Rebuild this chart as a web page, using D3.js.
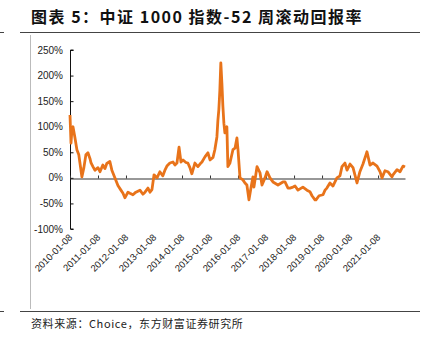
<!DOCTYPE html>
<html><head><meta charset="utf-8">
<script src="https://cdn.jsdelivr.net/npm/d3@7/dist/d3.min.js"></script>
<style>
html,body{margin:0;padding:0;background:#fff;}
svg{display:block;}
</style></head>
<body>
<svg id="chart" width="426" height="341"></svg>
<script>
const titleText = "图表 5：中证 1000 指数-52 周滚动回报率";
const sourceText = "资料来源：Choice，东方财富证券研究所";
const yTicks = [-100, -50, 0, 50, 100, 150, 200, 250];
const xTickLabels = ["2010-01-08","2011-01-08","2012-01-08","2013-01-08","2014-01-08","2015-01-08","2016-01-08","2017-01-08","2018-01-08","2019-01-08","2020-01-08","2021-01-08"];
const dates = ["2010-01-08","2010-01-21","2010-02-03","2010-02-16","2010-03-12","2010-04-08","2010-05-03","2010-05-16","2010-06-12","2010-07-08","2010-08-03","2010-08-30","2010-09-25","2010-10-08","2010-11-03","2010-11-30",
"2011-01-08","2011-02-03","2011-03-12","2011-04-08","2011-05-03","2011-06-12","2011-07-08","2011-08-16","2011-09-25","2011-11-03","2011-11-30","2011-12-25",
"2012-02-03","2012-02-28","2012-04-08","2012-05-16","2012-07-08","2012-08-16","2012-09-12","2012-10-21","2012-11-16","2012-12-12",
"2013-01-08","2013-02-16","2013-03-25","2013-05-03","2013-05-30","2013-06-25","2013-08-03","2013-09-12","2013-10-08","2013-11-03","2013-11-30","2013-12-25",
"2014-01-21","2014-02-28","2014-03-25","2014-04-21","2014-05-16","2014-06-25","2014-08-03","2014-08-30","2014-09-25","2014-11-03","2014-12-12",
"2015-01-08","2015-02-16","2015-03-12","2015-04-08","2015-04-21","2015-05-03","2015-05-16","2015-05-29","2015-06-12","2015-06-25","2015-07-08","2015-07-21","2015-08-16","2015-08-29","2015-09-25","2015-11-03","2015-11-30","2015-12-25",
"2016-01-08","2016-02-03","2016-03-12","2016-04-08","2016-05-03","2016-05-30","2016-06-25","2016-07-21","2016-08-03","2016-09-12","2016-10-21","2016-11-16","2016-12-25",
"2017-01-21","2017-02-28","2017-04-08","2017-06-12","2017-08-16","2017-09-12","2017-10-21","2017-11-16","2017-12-25",
"2018-01-21","2018-02-28","2018-05-03","2018-06-25","2018-08-03","2018-08-30","2018-10-08","2018-10-21","2018-11-30",
"2019-01-21","2019-02-16","2019-03-12","2019-04-21","2019-05-30","2019-07-21","2019-08-30","2019-09-25","2019-11-03","2019-11-30",
"2020-01-08","2020-02-16","2020-04-08","2020-05-16","2020-06-25","2020-08-03","2020-08-16","2020-09-25","2020-11-03","2020-12-25",
"2021-02-03","2021-02-28","2021-04-08","2021-05-16","2021-07-08","2021-07-21","2021-09-12","2021-10-21","2021-11-29","2021-12-25"];
const returns = [123,68,95,100,80,55,45,31,2,20,45,49,38,30,22,15,
20,12,25,18,28,32,15,0,-15,-24,-30,-39,
-28,-30,-33,-28,-24,-32,-28,-20,-28,-23,
6,0,12,4,15,23,29,31,25,29,60,31,
35,30,29,20,8,29,22,27,31,41,49,
35,40,55,80,113,133,170,225,185,140,107,88,100,22,29,55,58,78,
55,0,-4,-10,-14,-43,-20,2,-18,22,10,-14,0,
12,0,-8,-14,-8,-8,-20,-20,-18,
-16,-24,-18,-24,-27,-35,-43,-43,-35,
-33,-24,-20,-10,-16,0,4,22,29,15,
27,20,-10,12,27,45,51,25,29,23,
12,0,14,12,2,6,16,12,23,21];

const parse = d3.timeParse("%Y-%m-%d");
const data = dates.map((d,i)=>({date:parse(d), v:returns[i]}));

const svg = d3.select("#chart");
const latin = "'Liberation Sans Narrow','Liberation Sans',Arial,sans-serif";
const cjk = "'Noto Sans CJK SC','Liberation Sans',sans-serif";

// frame
svg.append("line").attr("x1",20).attr("x2",420).attr("y1",32.5).attr("y2",32.5).attr("stroke","#444").attr("stroke-width",1.2);
svg.append("line").attr("x1",0).attr("x2",4).attr("y1",32.5).attr("y2",32.5).attr("stroke","#444").attr("stroke-width",1);
svg.append("line").attr("x1",20).attr("x2",420).attr("y1",311.5).attr("y2",311.5).attr("stroke","#444").attr("stroke-width",1.2);
svg.append("line").attr("x1",0).attr("x2",4).attr("y1",311.5).attr("y2",311.5).attr("stroke","#444").attr("stroke-width",1);
svg.append("line").attr("x1",30.5).attr("x2",30.5).attr("y1",35).attr("y2",309).attr("stroke","#bbb").attr("stroke-width",1);

svg.append("text").attr("x",31).attr("y",23).attr("font-family",cjk).attr("font-weight","bold")
  .attr("font-size",16).attr("letter-spacing",1.5).attr("fill","#111").text(titleText);
svg.append("text").attr("x",31).attr("y",328).attr("font-family",cjk)
  .attr("font-size",11).attr("letter-spacing",0.6).attr("fill","#222").text(sourceText);

const x = d3.scaleTime().domain([parse("2010-01-08"), parse("2021-12-25")]).range([70, 405]);
const y = d3.scaleLinear().domain([-100, 250]).range([229, 50]);

// y axis
const yAxis = d3.axisRight(y).tickValues(yTicks).tickSize(3).tickFormat(()=>"");
const gy = svg.append("g").attr("transform","translate(70.5,0)").call(yAxis);
gy.select(".domain").attr("d",`M3,${y(250)}H0V${y(-100)}H3`).attr("stroke","#111");
gy.selectAll(".tick line").attr("stroke","#111");
svg.append("g").selectAll("text").data(yTicks).join("text")
  .attr("x",63).attr("y",d=>y(d)+3.5).attr("text-anchor","end")
  .attr("font-family",latin).attr("font-size",10).attr("fill","#222")
  .text(d=>d+"%");

// x axis on zero line
const xTickDates = xTickLabels.map(parse);
const xAxis = d3.axisTop(x).tickValues(xTickDates).tickSize(3).tickFormat(()=>"").tickSizeOuter(0);
const gx = svg.append("g").attr("transform",`translate(0,${Math.round(y(0))+0.5})`).call(xAxis);
gx.select(".domain").attr("stroke","#333").attr("stroke-width",1.2);
gx.selectAll(".tick line").attr("stroke","#333");
svg.append("g").selectAll("text").data(xTickLabels).join("text")
  .attr("transform",(d,i)=>`translate(${x(xTickDates[i])+3},${238}) rotate(-45)`)
  .attr("text-anchor","end").attr("font-family",latin).attr("font-size",9.5).attr("fill","#222")
  .text(d=>d);

// line
const line = d3.line().x(d=>x(d.date)).y(d=>y(d.v)).curve(d3.curveLinear);
svg.append("path").datum(data).attr("d",line).attr("fill","none")
  .attr("stroke","#E8731A").attr("stroke-width",2.8).attr("stroke-linejoin","round");
</script>
</body></html>
